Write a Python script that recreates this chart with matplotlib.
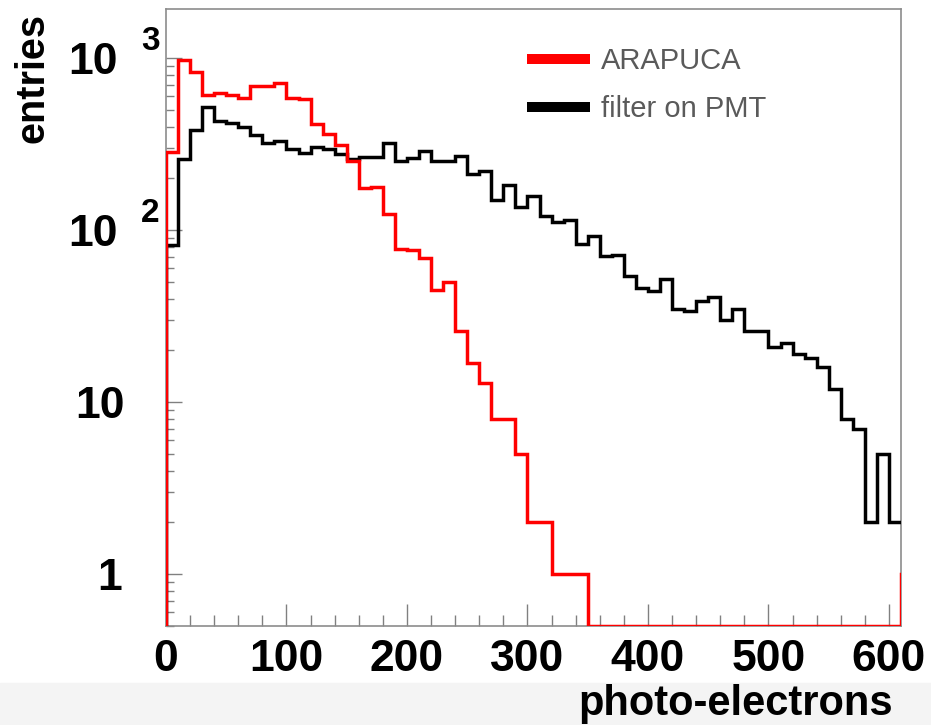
# ARAPUCA vs filtered PMT photo-electron spectra (ROOT-style log histogram)

import numpy as np
import matplotlib.pyplot as plt
from matplotlib.patches import Rectangle
from matplotlib.transforms import offset_copy

plt.rcParams["font.family"] = ["Liberation Sans", "DejaVu Sans"]

# bin edges: 10 p.e. wide, the last bin lies past the drawn range
bin_edges = np.arange(0, 630, 10)

arapuca = [286, 977, 836, 607, 626, 607, 590, 684, 690, 721,
           585, 580, 415, 361, 313, 251, 175, 179, 124, 78,
           77, 69, 45, 50, 26, 17, 13, 8, 8, 5,
           2, 2, 1, 1, 1, 0, 0, 0, 0, 0,
           0, 0, 0, 0, 0, 0, 0, 0, 0, 0,
           0, 0, 0, 0, 0, 0, 0, 0, 0, 0,
           0, 1]
filter_pmt = [82, 260, 383, 519, 433, 419, 397, 358, 320, 328,
              297, 281, 304, 297, 277, 259, 265, 268, 323, 251,
              262, 290, 253, 251, 270, 212, 221, 150, 183, 137,
              158, 121, 111, 114, 83, 92, 71, 72, 54, 46,
              44, 52, 35, 34, 39, 41, 30, 35, 26, 26,
              21, 22, 19, 18, 16, 12, 8, 7, 2, 5,
              2, 2]

x_ticks = [0, 100, 200, 300, 400, 500, 600]
y_ticks = [1, 10, 100, 1000]
y_tick_base = ["1", "10", "10", "10"]
y_tick_exp = ["", "", "2", "3"]

x_range = (0, 610)
y_range = (0.5, 1930)


def main():
    fig = plt.figure(figsize=(9.31, 7.25), dpi=100)
    fig.patches.append(Rectangle((0, 0), 1, 42 / 725, transform=fig.transFigure,
                                 color="#f4f4f4", zorder=-1))
    ax = fig.add_axes([166 / 931, 99 / 725, 735 / 931, 617 / 725])

    floor = y_range[0]
    red = np.where(np.array(arapuca) > 0, arapuca, floor)
    blk = np.where(np.array(filter_pmt) > 0, filter_pmt, floor)
    ax.stairs(blk, bin_edges, baseline=floor, color="black", lw=2.5, zorder=3,
              label="filter on PMT")
    ax.stairs(red, bin_edges, baseline=floor, color="#ff0000", lw=2.5, zorder=3,
              label="ARAPUCA")

    ax.set_yscale("log")
    ax.set_xlim(x_range)
    ax.set_ylim(y_range)

    for s in ax.spines.values():
        s.set_color("#8c8c8c")
        s.set_linewidth(1.2)

    ax.set_xticks(x_ticks)
    ax.set_xticks(np.arange(0, 611, 20), minor=True)
    ax.set_xticklabels([str(v) for v in x_ticks])
    ax.tick_params(axis="x", which="major", direction="in", length=15.8, width=1,
                   color="#808080", pad=9.5, labelsize=32)
    ax.tick_params(axis="x", which="minor", direction="in", length=7.9, width=1,
                   color="#808080")
    for lab in ax.get_xticklabels():
        lab.set_fontweight("bold")

    ax.set_yticks(y_ticks)
    ax.set_yticklabels([])
    ax.tick_params(axis="y", which="major", direction="in", length=11.5, width=1,
                   color="#808080")
    ax.tick_params(axis="y", which="minor", direction="in", length=5.8, width=1,
                   color="#808080", labelleft=False)

    # ROOT style "10 ^n" labels
    ytr = ax.get_yaxis_transform()
    for val, base, ex in zip(y_ticks, y_tick_base, y_tick_exp):
        shift = -48 if ex else (-41 if base == "10" else -44)
        tr = offset_copy(ytr, fig=fig, x=shift * 0.72, y=-16 * 0.72, units="points")
        ax.text(0, val, base, transform=tr, ha="right", va="baseline",
                fontsize=32, fontweight="bold")
        if ex:
            tr2 = offset_copy(ytr, fig=fig, x=-25 * 0.72, y=8 * 0.72, units="points")
            ax.text(0, val, ex, transform=tr2, ha="left", va="baseline",
                    fontsize=24, fontweight="bold")

    ax.set_xlabel("photo-electrons", fontsize=30, fontweight="bold", ha="right", va="baseline")
    ax.xaxis.set_label_coords(727 / 735, -89 / 617)
    ax.set_ylabel("entries", fontsize=28.5, fontweight="bold", ha="right", va="top")
    ax.yaxis.set_label_coords(-152 / 735, 613 / 617)

    handles, labels = ax.get_legend_handles_labels()
    leg = ax.legend(handles[::-1], labels[::-1], loc="upper left",
                    bbox_to_anchor=(532 / 931, 1 - 47 / 725), bbox_transform=fig.transFigure,
                    frameon=False, fontsize=21, handlelength=1.81, handletextpad=0.55,
                    labelspacing=0.7, borderpad=0, borderaxespad=0)
    for h in leg.legend_handles:
        h.set_linewidth(7.2)
    for t in leg.get_texts():
        t.set_color("#5a5a5a")

    fig.savefig("out.png", dpi=100, facecolor="white")


if __name__ == "__main__":
    main()
